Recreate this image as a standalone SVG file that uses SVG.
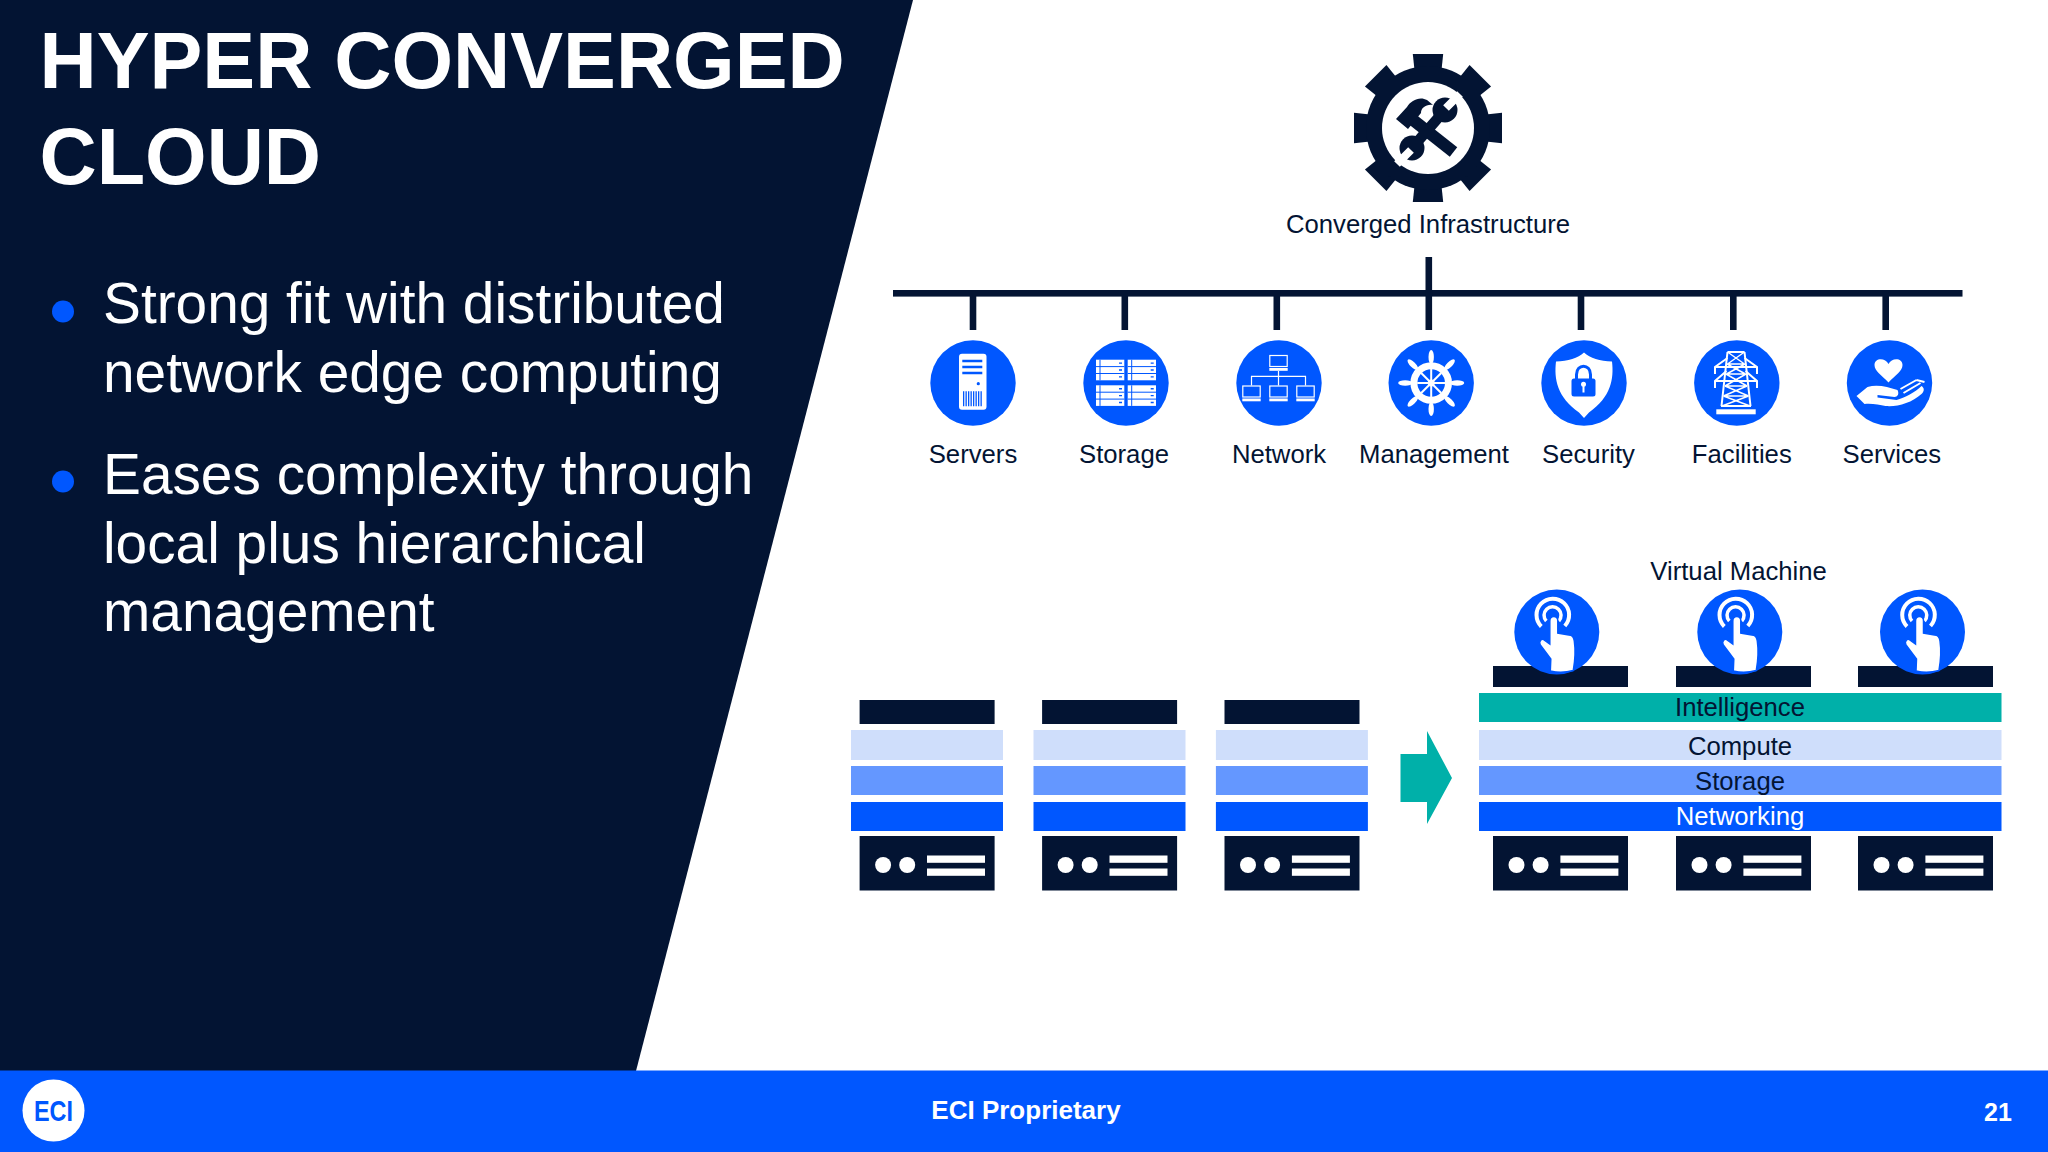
<svg xmlns="http://www.w3.org/2000/svg" xmlns:xlink="http://www.w3.org/1999/xlink" width="2048" height="1152" viewBox="0 0 2048 1152">
<style>
text{font-family:"Liberation Sans",Arial,sans-serif}
.d{fill:#031433}.b{fill:#0057ff}.w{fill:#fff}.m{fill:#6497ff}.l{fill:#cfdefb}.t{fill:#00b0a9}
.lab{font-size:25.7px;fill:#031433;text-anchor:middle}
.bul{font-size:56.8px;fill:#fff}
.ttl{font-size:79.2px;font-weight:bold;fill:#fff}
.sb{stroke:#0057ff;fill:none}.sw{stroke:#fff;fill:none}
</style>
<defs>
<g id="srv"><rect width="135" height="54.5" class="d"/><circle cx="23.5" cy="29" r="8" class="w"/><circle cx="47.600" cy="29" r="8" class="w"/><rect x="67.4" y="19.5" width="58" height="7.3" class="w"/><rect x="67.4" y="32.5" width="58" height="7.3" class="w"/></g>
<g id="stack"><rect x="8.600" y="-36" width="135" height="24" class="d"/><rect y="-6" width="152" height="30" class="l"/><rect y="30" width="152" height="29" class="m"/><rect y="66" width="152" height="29" class="b"/><use href="#srv" x="8.600" y="100"/></g>
<g id="blk"><rect width="28.3" height="20.6" class="w"/><path d="M0 6.9H28.3M0 13.8H28.3M4 0V20.6" class="sb" stroke-width="1"/><path d="M23 3.4H26M23 10.3H26M23 17.2H26" class="sb" stroke-width="1.4"/></g>
<g id="mon"><rect x="-8.7" y="0.5" width="17.4" height="11" class="sw" stroke-width="1.2"/><rect x="-9.2" y="13" width="18.4" height="2.8" class="w"/></g>
<g id="vm"><circle r="42.5" class="b"/><path d="M-15.500 -5.500A16.300 16.300 0 1 1 8 -6" class="sw" stroke-width="4"/><path d="M-10.500 -11A8.500 8.500 0 1 1 2 -11" class="sw" stroke-width="3.500"/><path d="M-7 12V-11C-7 -17 1 -17 1 -11V1L12 3C15 3 17 5 17.5 9C19 19 18 30 16.5 38.500C9 40.500 0 40.500 -6.500 39L-6 27L-16.500 13C-18.500 9 -15 5.500 -12 8.500Z" class="w" stroke="#0057ff" stroke-width="1.500"/></g>
<g id="tooth"><path d="M-13.500 -58L-15.200 -74H15.200L13.500 -58Z" class="d"/></g>
</defs>

<rect width="2048" height="1152" class="w"/>
<g id="panel">
<path d="M0 0H913L636 1071H0Z" class="d"/>
<rect y="1070.500" width="2048" height="81.500" class="b"/>
</g>
<g id="title">
<text x="39.500" y="88" class="ttl">HYPER CONVERGED</text>
<text x="39.500" y="184" class="ttl">CLOUD</text>
</g>
<g id="bullets">
<circle cx="63" cy="311.5" r="11" class="b"/>
<text x="103" y="323" class="bul">Strong fit with distributed</text>
<text x="103" y="392" class="bul">network edge computing</text>
<circle cx="63" cy="481.5" r="11" class="b"/>
<text x="103" y="494" class="bul">Eases complexity through</text>
<text x="103" y="562.500" class="bul">local plus hierarchical</text>
<text x="103" y="631" class="bul">management</text>
</g>
<g id="footer">
<circle cx="53.5" cy="1110.5" r="31" class="w"/>
<text x="53.5" y="1121" text-anchor="middle" font-size="30" font-weight="bold" fill="#0057ff" textLength="39" lengthAdjust="spacingAndGlyphs">ECI</text>
<text x="1026" y="1119" text-anchor="middle" font-size="26" font-weight="bold" fill="#fff">ECI Proprietary</text>
<text x="1998" y="1120.500" text-anchor="middle" font-size="25" font-weight="bold" fill="#fff">21</text>
</g>

<g id="connectors" class="d">
<rect x="893" y="290" width="1069.500" height="6.6"/>
<rect x="1425.500" y="257" width="6.6" height="73"/>
<rect x="969.700" y="296" width="6.6" height="34"/>
<rect x="1121.500" y="296" width="6.6" height="34"/>
<rect x="1273.500" y="296" width="6.6" height="34"/>
<rect x="1577.700" y="296" width="6.6" height="34"/>
<rect x="1730" y="296" width="6.6" height="34"/>
<rect x="1882.400" y="296" width="6.6" height="34"/>
<path id="arrow" d="M1400.500 754H1427V731L1452 778L1427 824V802H1400.500Z" class="t"/>
</g>

<g id="converged-infrastructure">
<g transform="translate(1428 128)">
<use href="#tooth"/><use href="#tooth" transform="rotate(45)"/><use href="#tooth" transform="rotate(90)"/><use href="#tooth" transform="rotate(135)"/><use href="#tooth" transform="rotate(180)"/><use href="#tooth" transform="rotate(225)"/><use href="#tooth" transform="rotate(270)"/><use href="#tooth" transform="rotate(315)"/>
<circle r="62" class="d"/><circle r="46" class="w"/>
<path d="M-16 20L17 -18" stroke="#031433" stroke-width="10.500" fill="none"/>
<circle cx="-16" cy="20" r="12.500" class="d"/><circle cx="17" cy="-18" r="12.500" class="d"/>
<path d="M-17 22L-31 36M18 -20L32 -34" stroke="#fff" stroke-width="8" fill="none"/>
<path d="M-20 -12L25.500 24" stroke="#031433" stroke-width="12" fill="none"/>
<path d="M-32 -9L-21 -21C-17 -28 -8 -32 -1 -28L5 -23C-2 -24 -7 -20 -7 -15L-20 1Z" class="d"/>
</g>
<text x="1428" y="233" class="lab">Converged Infrastructure</text>
</g>

<g id="servers">
<circle cx="973" cy="383" r="42.7" class="b"/>
<g transform="translate(973 383)">
<rect x="-14" y="-29.300" width="27.500" height="56" rx="3" class="w"/>
<path d="M-10.700 -22H9.300M-10.700 -16H9.300M-10.700 -10H9.300" class="sb" stroke-width="2.700"/>
<circle cx="5.300" cy="0.700" r="1.600" class="b"/>
<path d="M-10 15.800H9.300" class="sb" stroke-width="15" stroke-dasharray="1.300 1.200"/>
</g>
<text x="973" y="463" class="lab">Servers</text>
</g>

<g id="storage">
<circle cx="1126" cy="383" r="42.7" class="b"/>
<g transform="translate(1126 383)">
<use href="#blk" x="-30" y="-23.300"/><use href="#blk" x="1.700" y="-23.300"/><use href="#blk" x="-30" y="2.300"/><use href="#blk" x="1.700" y="2.300"/>
</g>
<text x="1124" y="463" class="lab">Storage</text>
</g>

<g id="network">
<circle cx="1279" cy="383" r="42.7" class="b"/>
<g transform="translate(1278.500 383)">
<use href="#mon" y="-28"/><use href="#mon" x="-27" y="2.500"/><use href="#mon" y="2.500"/><use href="#mon" x="27" y="2.500"/>
<path d="M0 -12V2.500M-27 2.500V-6.700H27V2.500" class="sw" stroke-width="1.200"/>
</g>
<text x="1279" y="463" class="lab">Network</text>
</g>

<g id="management">
<circle cx="1431.200" cy="383" r="42.7" class="b"/>
<g transform="translate(1431.200 383)">
<g id="spokes" class="w">
<ellipse cy="-26" rx="2.700" ry="7"/><ellipse cy="26" rx="2.700" ry="7"/><ellipse cx="-26" rx="7" ry="2.700"/><ellipse cx="26" rx="7" ry="2.700"/>
<ellipse cy="-26" rx="2.700" ry="7" transform="rotate(45)"/><ellipse cy="26" rx="2.700" ry="7" transform="rotate(45)"/><ellipse cy="-26" rx="2.700" ry="7" transform="rotate(-45)"/><ellipse cy="26" rx="2.700" ry="7" transform="rotate(-45)"/>
</g>
<circle r="17.300" class="sw" stroke-width="7"/>
<path d="M-14 0H14M0 -14V14M-10 -10L10 10M-10 10L10 -10" class="sw" stroke-width="2"/>
<circle r="3.500" class="w"/>
</g>
<text x="1434" y="463" class="lab">Management</text>
</g>

<g id="security">
<circle cx="1584" cy="383" r="42.7" class="b"/>
<g transform="translate(1584 383)">
<path d="M0 -30.500C6 -25 16 -21.500 28 -21.500C30 -4 27 14 5 29.500L0 35L-5 29.500C-27 14 -30 -4 -28 -21.500C-16 -21.500 -6 -25 0 -30.500Z" class="w"/>
<rect x="-12.500" y="-4.500" width="24" height="18" rx="2.500" class="b"/>
<path d="M-7.500 -4V-8.500C-7.500 -19.500 6.500 -19.500 6.500 -8.500V-4" class="sb" stroke-width="3"/>
<circle cx="-0.500" cy="1.200" r="2.500" class="w"/><rect x="-1.500" y="1" width="2" height="8.500" class="w"/>
</g>
<text x="1588.500" y="463" class="lab">Security</text>
</g>

<g id="facilities">
<circle cx="1736.800" cy="383" r="42.7" class="b"/>
<g transform="translate(1736 383)" class="sw" stroke-width="1.500">
<rect x="-19.700" y="26.300" width="39.400" height="5" class="w" stroke="none"/>
<path d="M-8.500 -31H8.500M-8.500 -31L-14.500 23M8.500 -31L14.500 23M-15 23H15" stroke-width="2"/>
<path d="M-8.500 -31L8.500 -19M8.500 -31L-8.500 -19M-8.500 -19H8.500M-9 -19L9.500 -9M9 -19L-9.500 -9M-9.500 -9H9.500M-10 -9L11 3M10 -9L-11 3M-11 3H11M-11 3L12.500 13M11 3L-12.500 13M-12.500 13H12.500M-12.500 13L14 23M12.500 13L-14 23"/>
<path d="M-8.500 -25L-21 -16V-9M8.500 -25L21 -16V-9M-21 -16H21" stroke-width="2"/>
<path d="M-9.500 -12L-21 -2V5M9.500 -12L21 -2V5M-21 -2H21" stroke-width="2"/>
</g>
<text x="1741.800" y="463" class="lab">Facilities</text>
</g>

<g id="services">
<circle cx="1889.500" cy="383" r="42.7" class="b"/>
<g transform="translate(1889.500 383)">
<path d="M-1 -0.500C-8 -8 -15 -12 -15 -18C-15 -25.500 -4 -25.500 -1 -19C2 -25.500 13 -25.500 13 -18C13 -12 6 -8 -1 -0.500Z" class="w"/>
<path d="M-33 13L-22 4C-12 1 -2 4 8 7C10 11 8 14 5 14L-12 12L-12 14.500L7 17C15 15 26 9 32 3C35 5 35 8 32 11C22 20 8 24 -4 23C-10 22 -18 20 -25 21Z" class="w"/>
<path d="M11 6L27 -3M14 10L31 0M27 -3L35 -1" class="sw" stroke-width="2"/>
</g>
<text x="1891.800" y="463" class="lab">Services</text>
</g>

<g id="stack-1"><use href="#stack" x="851" y="736"/></g>
<g id="stack-2"><use href="#stack" x="1033.500" y="736"/></g>
<g id="stack-3"><use href="#stack" x="1215.900" y="736"/></g>

<g id="vm-1"><rect x="1493" y="666" width="135" height="21" class="d"/><use href="#vm" x="1556.800" y="632"/></g>
<g id="vm-2"><rect x="1676" y="666" width="135" height="21" class="d"/><use href="#vm" x="1739.800" y="632"/></g>
<g id="vm-3"><rect x="1858" y="666" width="135" height="21" class="d"/><use href="#vm" x="1922.500" y="632"/></g>
<g id="virtual-machine-label"><text x="1738.600" y="580" class="lab">Virtual Machine</text></g>
<g id="intelligence"><rect x="1479" y="693" width="522.500" height="29" class="t"/><text x="1740" y="716" class="lab">Intelligence</text></g>
<g id="compute"><rect x="1479" y="730" width="522.500" height="30" class="l"/><text x="1740" y="755" class="lab">Compute</text></g>
<g id="storage-layer"><rect x="1479" y="766" width="522.500" height="29" class="m"/><text x="1740" y="790" class="lab">Storage</text></g>
<g id="networking"><rect x="1479" y="802" width="522.500" height="29" class="b"/><text x="1740" y="825" class="lab" style="fill:#fff">Networking</text></g>
<g id="servers-1"><use href="#srv" x="1493" y="836"/></g>
<g id="servers-2"><use href="#srv" x="1676" y="836"/></g>
<g id="servers-3"><use href="#srv" x="1858" y="836"/></g>
</svg>
